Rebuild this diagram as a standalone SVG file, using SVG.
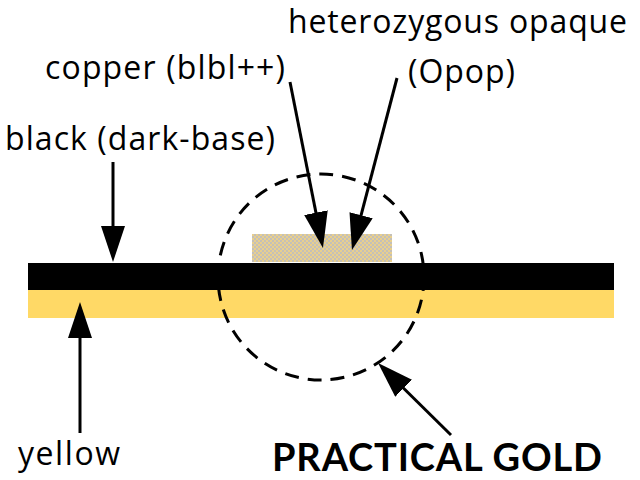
<svg xmlns="http://www.w3.org/2000/svg" width="640" height="480" viewBox="0 0 640 480">
<style>
text{font-family:"Open Sans",Lato,"Liberation Sans",sans-serif;font-size:32px;fill:#000}
.b{font-family:Lato,"Open Sans","Liberation Sans",sans-serif;font-weight:bold;font-size:38px}
.ln{stroke:#000;stroke-width:3;fill:none}
</style>
<defs>
<marker id="ah" markerUnits="userSpaceOnUse" viewBox="0 0 36 24" markerWidth="36" markerHeight="24" refX="30" refY="12" orient="auto">
<path d="M0,0 L36,12 L0,24 z" fill="#000"/>
</marker>
<pattern id="chk" width="4" height="4" patternUnits="userSpaceOnUse">
<rect width="4" height="4" fill="#e8cf8e"/>
<rect width="2" height="2" fill="#c4c0b8"/>
<rect x="2" y="2" width="2" height="2" fill="#c4c0b8"/>
</pattern>
</defs>
<g id="yellow-layer"><rect x="28" y="290" width="586" height="28" fill="#ffd966"/></g>
<g id="black-layer"><rect x="28" y="263" width="586" height="27" fill="#000"/></g>
<g id="copper-layer"><rect x="252" y="234" width="140" height="28" fill="url(#chk)"/></g>
<g id="gold-circle"><circle cx="321" cy="277" r="103" fill="none" stroke="#000" stroke-width="3" stroke-dasharray="14 9"/></g>
<g id="connectors">
<line class="ln" x1="113" y1="162" x2="113" y2="256" marker-end="url(#ah)"/>
<line class="ln" x1="80" y1="433" x2="80" y2="308" marker-end="url(#ah)"/>
<line class="ln" x1="290" y1="82" x2="321.8" y2="242.1" marker-end="url(#ah)"/>
<line class="ln" x1="397" y1="78" x2="353.5" y2="244.2" marker-end="url(#ah)"/>
<line class="ln" x1="451" y1="435" x2="382.3" y2="367.2" marker-end="url(#ah)"/>
</g>
<g id="labels">
<text x="288" y="33" textLength="339" lengthAdjust="spacing">heterozygous opaque</text>
<text x="408" y="83" textLength="107" lengthAdjust="spacing">(Opop)</text>
<text x="45" y="79" textLength="240" lengthAdjust="spacing">copper (blbl++)</text>
<text x="5" y="150" textLength="270" lengthAdjust="spacing">black (dark-base)</text>
<text x="18" y="465" textLength="102" lengthAdjust="spacing">yellow</text>
<text class="b" x="272" y="471" textLength="330" lengthAdjust="spacing">PRACTICAL GOLD</text>
</g>
</svg>
